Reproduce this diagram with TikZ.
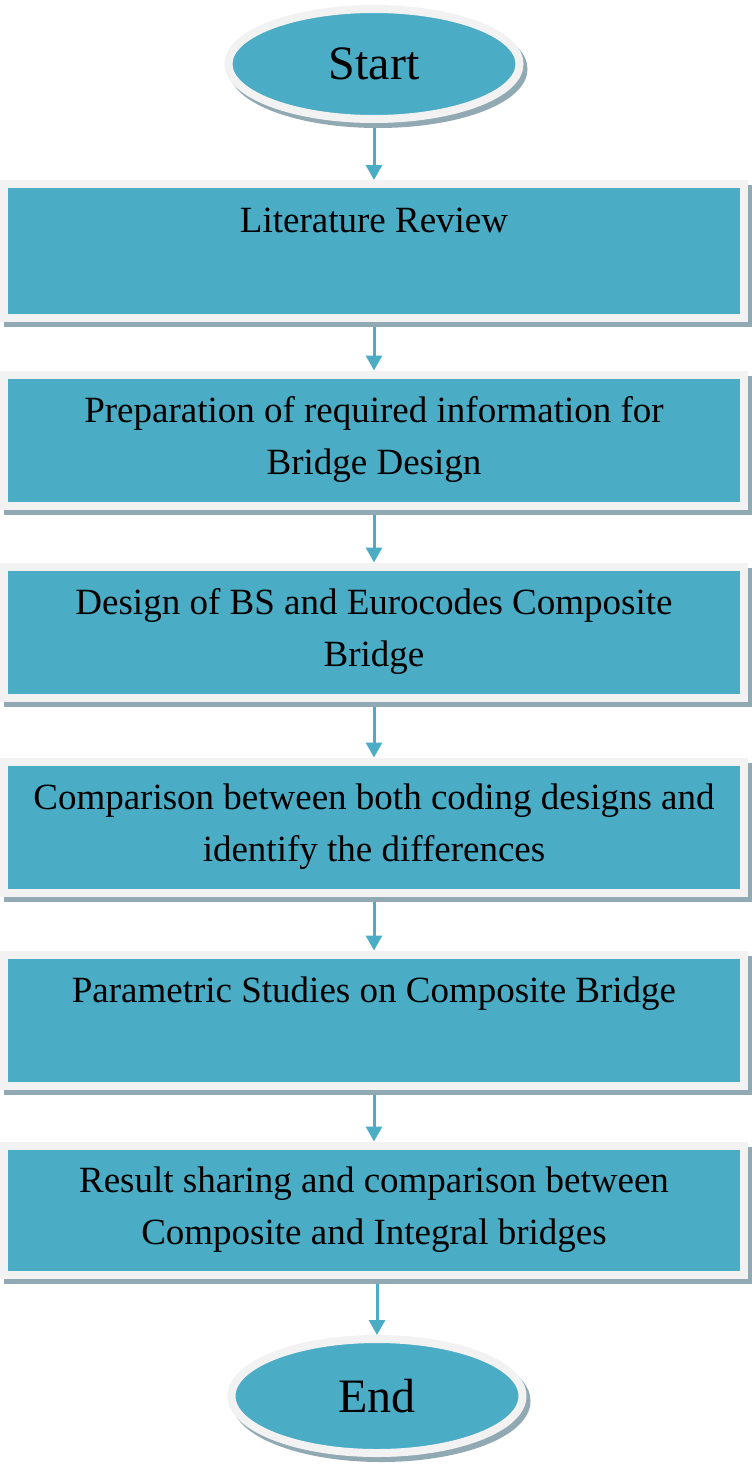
\documentclass[tikz,border=0pt]{standalone}
\usepackage{fontspec}
\setmainfont{Liberation Serif}
\usetikzlibrary{shapes.geometric,shadows,arrows.meta}
\definecolor{aqua}{HTML}{4BACC6}
\definecolor{rim}{HTML}{F2F2F2}
\definecolor{shade}{HTML}{91A9B3}

\begin{document}
\begin{tikzpicture}[x=1pt, y=-1pt,
    outline/.style={draw=rim, fill=aqua, line width=8pt, inner sep=0pt,
      drop shadow={shadow xshift=4pt, shadow yshift=-5pt, fill=shade, draw=shade, line width=8pt, opacity=1}},
    terminal/.style={outline, ellipse, minimum width=291pt, minimum height=110pt,
      font=\fontsize{48pt}{58pt}\selectfont},
    stage/.style={outline, rectangle, minimum width=740pt, minimum height=131pt,
      font=\fontsize{37pt}{52pt}\selectfont,
      execute at begin node={\begin{minipage}[c][87pt][t]{730pt}\centering},
      execute at end node={\end{minipage}}},
    flow/.style={draw=aqua, line width=3pt, -{Triangle[width=16pt,length=15pt]}, shorten <=5pt}]
  \useasboundingbox (0,0) rectangle (752,1467);
  \node[terminal] (start) at (374,64) {Start};
  \node[stage, minimum height=134pt] (review) at (374,251) {Literature Review};
  \node[stage] (prep) at (374,440) {Preparation of required information for\\Bridge Design};
  \node[stage] (design) at (374,632) {Design of BS and Eurocodes Composite\\Bridge};
  \node[stage] (compare) at (374,827) {Comparison between both coding designs and\\identify the differences};
  \node[stage] (param) at (374,1020) {Parametric Studies on Composite Bridge};
  \node[stage, minimum height=129pt] (result) at (374,1210) {Result sharing and comparison between\\Composite and Integral bridges};
  \node[terminal, minimum height=114pt] (stop) at (377,1396) {End};
  \foreach \a/\b in {start/review, review/prep, prep/design, design/compare, compare/param, param/result}
    \draw[flow] (\a) -- (\b);
  \draw[flow] (result.south -| stop) -- (stop);
\end{tikzpicture}
\end{document}
